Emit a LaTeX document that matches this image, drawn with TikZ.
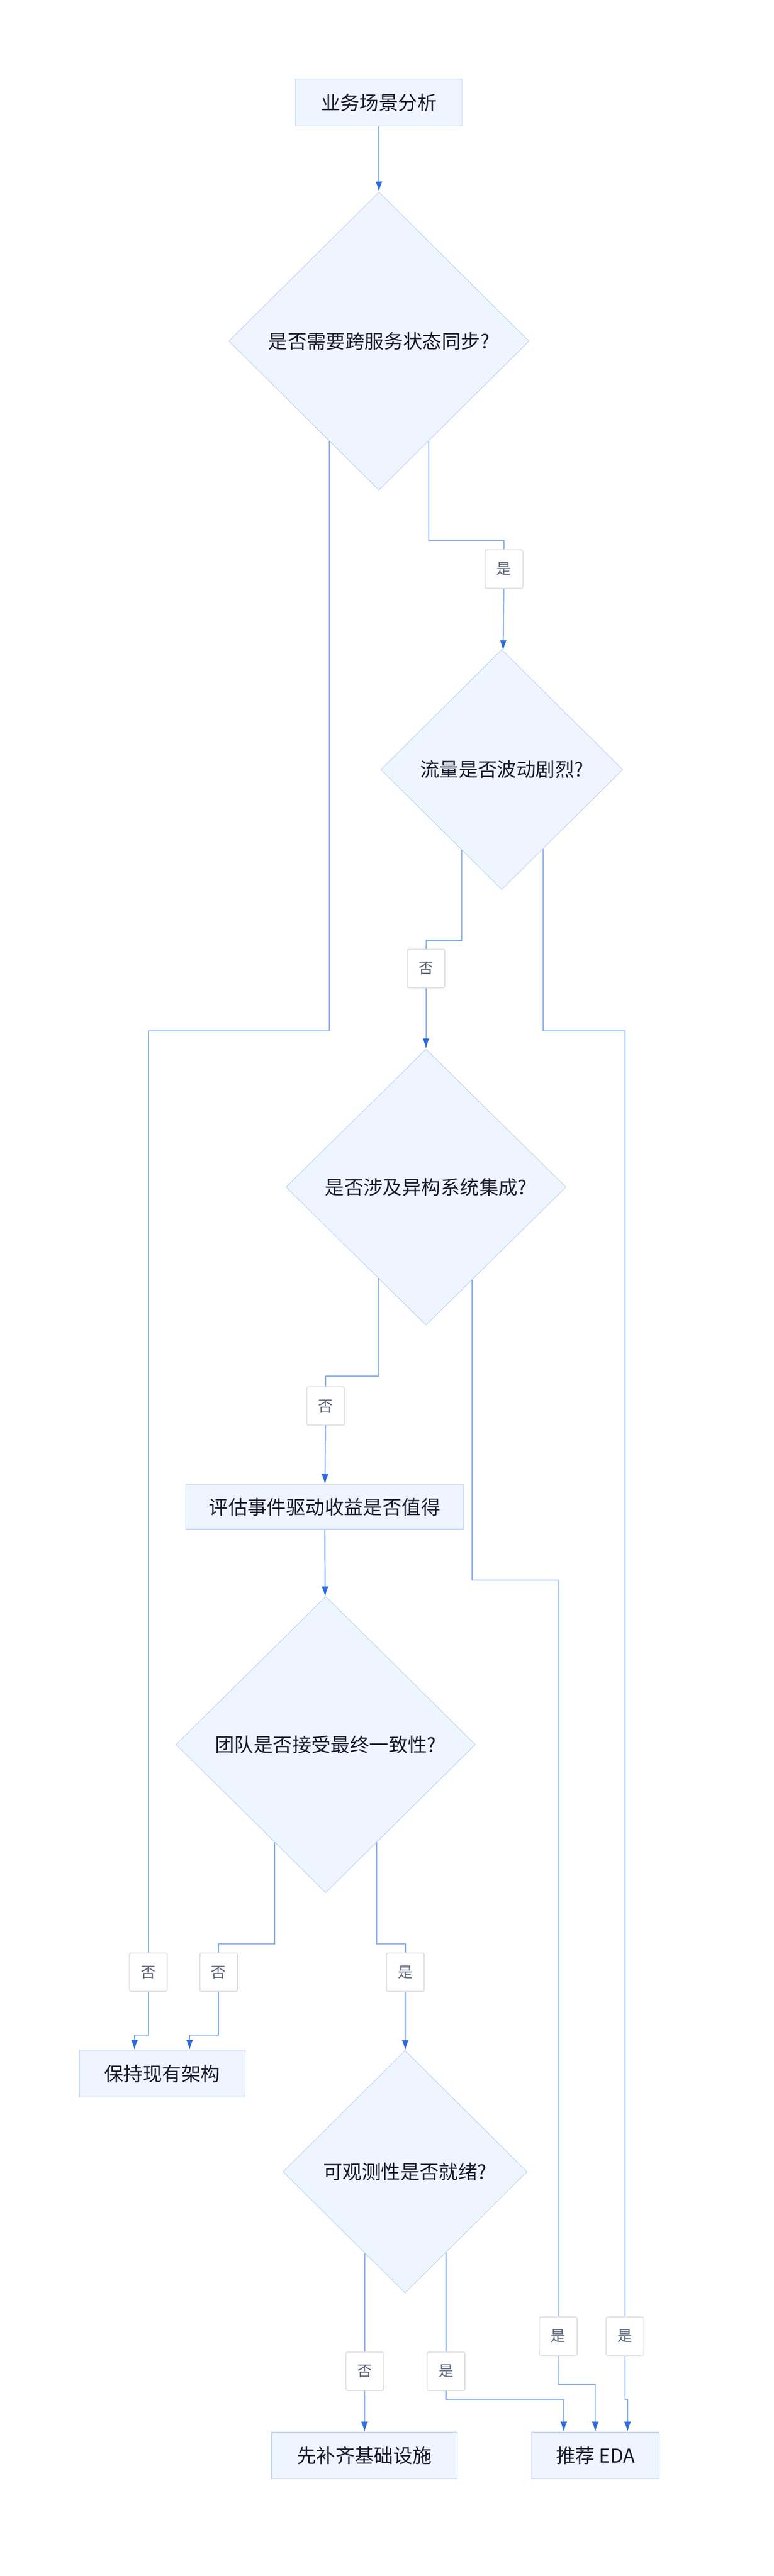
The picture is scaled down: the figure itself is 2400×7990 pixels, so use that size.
\documentclass[tikz,border=0pt]{standalone}
\usepackage{fontspec}
\setmainfont{Noto Sans CJK SC}
\usetikzlibrary{shapes.geometric, arrows.meta, positioning, calc}
\definecolor{boxfill}{HTML}{EFF5FE}
\definecolor{boxline}{HTML}{C6D8F4}
\definecolor{flowline}{HTML}{8AB0F0}
\definecolor{tipblue}{HTML}{2F6BE0}
\definecolor{labline}{HTML}{DDDDDD}
\definecolor{labtext}{HTML}{5A6478}
\definecolor{maintext}{HTML}{1A1A2E}
\tikzset{
  box/.style={draw=boxline, fill=boxfill, line width=0.6pt, text=maintext, font=\fontsize{17}{20}\selectfont, inner sep=0pt},
  dec/.style={diamond, draw=boxline, fill=boxfill, line width=0.6pt, text=maintext, font=\fontsize{17}{20}\selectfont, inner sep=0pt},
  lab/.style={draw=labline, fill=white, rounded corners=1.5pt, line width=0.8pt, text=labtext, font=\fontsize{13}{15}\selectfont, minimum width=1.17cm, minimum height=1.19cm},
  line/.style={draw=flowline, line width=1pt},
  arr/.style={line, -{Latex[length=9pt,width=6pt,color=tipblue]}}
}
\begin{document}
\begin{tikzpicture}[x=0.01cm, y=-0.01cm]
\useasboundingbox (0,0) rectangle (2400,7990);

% main nodes
\node (start) [box, minimum width=5.15cm, minimum height=1.45cm] at (1175,318) {业务场景分析};
\node (d1) [dec, minimum width=9.31cm, minimum height=9.24cm] at (1175,1058) {是否需要跨服务状态同步?};
\node (d2) [dec, minimum width=7.5cm, minimum height=7.44cm] at (1556,2387) {流量是否波动剧烈?};
\node (d3) [dec, minimum width=8.68cm, minimum height=8.56cm] at (1321,3682) {是否涉及异构系统集成?};
\node (eval) [box, minimum width=8.62cm, minimum height=1.38cm] at (1007,4674) {评估事件驱动收益是否值得};
\node (d4) [dec, minimum width=9.28cm, minimum height=9.18cm] at (1010,5411) {团队是否接受最终一致性?};
\node (keep) [box, minimum width=5.14cm, minimum height=1.45cm] at (503,6432) {保持现有架构};
\node (d5) [dec, minimum width=7.56cm, minimum height=7.52cm] at (1256,6736) {可观测性是否就绪?};
\node (infra) [box, minimum width=5.75cm, minimum height=1.44cm] at (1130,7616) {先补齐基础设施};
\node (eda) [box, minimum width=3.96cm, minimum height=1.44cm] at (1847,7616) {推荐 EDA};

% edge labels
\node (l1) [lab] at (1563,1765) {是};
\node (l2) [lab] at (1321,3004) {否};
\node (l3) [lab] at (1010,4361) {否};
\node (l4) [lab] at (460,6117) {否};
\node (l5) [lab] at (678,6117) {否};
\node (l6) [lab] at (1257,6117) {是};
\node (l7) [lab] at (1131,7355) {否};
\node (l8) [lab] at (1383,7355) {是};
\node (l9) [lab] at (1731,7246) {是};
\node (l10) [lab] at (1938,7246) {是};

% exit points on the diamonds
\coordinate (d1n) at ($(d1.south)!0.33!(d1.west)$);
\coordinate (d1y) at ($(d1.south)!0.33!(d1.east)$);
\coordinate (d2n) at ($(d2.south)!0.33!(d2.west)$);
\coordinate (d2y) at ($(d2.south)!0.34!(d2.east)$);
\coordinate (d3n) at ($(d3.south)!0.34!(d3.west)$);
\coordinate (d3y) at ($(d3.south)!0.33!(d3.east)$);
\coordinate (d4n) at ($(d4.south)!0.34!(d4.west)$);
\coordinate (d4y) at ($(d4.south)!0.34!(d4.east)$);
\coordinate (d5n) at ($(d5.south)!0.33!(d5.west)$);
\coordinate (d5y) at ($(d5.south)!0.335!(d5.east)$);

\draw [arr] (start) -- (d1);
\draw [line] (d1y) |- (1563,1676) -- (l1);
\draw [arr] (l1) -- (d2);
\draw [line] (d1n) |- (460,3198) -- (l4);
\draw [line] (d2n) |- (1321,2917) -- (l2);
\draw [arr] (l2) -- (d3);
\draw [line] (d2y) |- (1938,3198) -- (l10);
\draw [line] (d3n) |- (1010,4269) -- (l3);
\draw [arr] (l3) -- (eval);
\draw [line] (d3y) |- (1731,4901) -- (l9);
\draw [arr] (eval) -- (d4);
\draw [line] (d4n) |- (678,6029) -- (l5);
\draw [line] (d4y) |- (1257,6029) -- (l6);
\draw [arr] (l6) -- (d5);
\draw [arr] (l4) |- (417,6312) -- (keep.north -| 417,0);
\draw [arr] (l5) |- (588,6312) -- (keep.north -| 588,0);
\draw [line] (d5n) -- (l7);
\draw [arr] (l7) -- (infra);
\draw [line] (d5y) -- (l8);
\draw [arr] (l8) |- (1748,7442) -- (eda.north -| 1748,0);
\draw [arr] (l9) |- (1846,7396) -- (eda.north -| 1846,0);
\draw [arr] (l10) |- (1946,7442) -- (eda.north -| 1946,0);
\end{tikzpicture}
\end{document}
